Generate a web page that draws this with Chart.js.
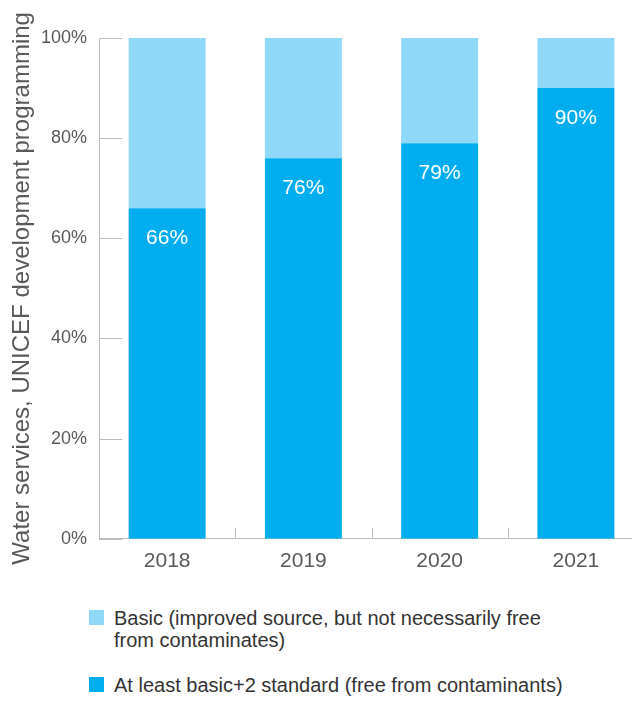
<!DOCTYPE html>
<html>
<head>
<meta charset="utf-8">
<script src="https://cdn.jsdelivr.net/npm/chart.js@4"></script>
<style>
  html, body { margin: 0; padding: 0; background: #fff; overflow: hidden; }
  #wrap { position: relative; width: 632px; height: 702px; overflow: hidden; }
  #chart { position: absolute; left: 0; top: 0; }
  .legend { position: absolute; font-family: "Liberation Sans", Arial, sans-serif; font-size: 20px; line-height: 22px; color: #333; white-space: nowrap; }
  .legend .sw { position: absolute; left: -25px; top: 3px; width: 15px; height: 15px; }
</style>
</head>
<body>
<div id="wrap">
  <canvas id="chart" width="660" height="589"></canvas>
  <div class="legend" style="left:114px; top:607px;"><span class="sw" style="background:#8fd8f8"></span>Basic (improved source, but not necessarily free<br>from contaminates)</div>
  <div class="legend" style="left:114px; top:674px;"><span class="sw" style="background:#00aeef"></span>At least basic+2 standard (free from contaminants)</div>
</div>
<script>
const years = ['2018', '2019', '2020', '2021'];
const basicPlus2 = [66, 76, 79, 90];
const basicOnly = [34, 24, 21, 10];
const yTicks = [0, 20, 40, 60, 80, 100];

const axisGrey = '#bcbcbc';
const textGrey = '#58595b';
const font = 'Liberation Sans, Arial, sans-serif';

// short tick marks drawn inside the plot, like the original
const innerTicks = {
  id: 'innerTicks',
  afterDraw(chart) {
    const ctx = chart.ctx;
    const area = chart.chartArea;
    const x = chart.scales.x;
    const y = chart.scales.y;
    ctx.save();
    ctx.strokeStyle = axisGrey;
    ctx.lineWidth = 1;
    yTicks.forEach(v => {
      const py = Math.round(y.getPixelForValue(v)) + 0.5;
      ctx.beginPath();
      ctx.moveTo(area.left, py);
      ctx.lineTo(area.left + 23, py);
      ctx.stroke();
    });
    for (let i = 1; i < years.length; i++) {
      const px = Math.round((x.getPixelForValue(i - 1) + x.getPixelForValue(i)) / 2) + 0.5;
      ctx.beginPath();
      ctx.moveTo(px, area.bottom);
      ctx.lineTo(px, area.bottom - 11);
      ctx.stroke();
    }
    ctx.restore();
  }
};

const valueLabels = {
  id: 'valueLabels',
  afterDatasetsDraw(chart) {
    const ctx = chart.ctx;
    const meta = chart.getDatasetMeta(0);
    ctx.save();
    ctx.fillStyle = '#fff';
    ctx.font = '21px ' + font;
    ctx.textAlign = 'center';
    ctx.textBaseline = 'middle';
    meta.data.forEach((bar, i) => {
      ctx.fillText(basicPlus2[i] + '%', bar.x, bar.y + 30);
    });
    ctx.restore();
  }
};

new Chart(document.getElementById('chart'), {
  type: 'bar',
  data: {
    labels: years,
    datasets: [
      {
        label: 'At least basic+2 standard (free from contaminants)',
        data: basicPlus2,
        backgroundColor: '#00aeef',
        borderWidth: 0,
        barPercentage: 0.565,
        categoryPercentage: 1
      },
      {
        label: 'Basic (improved source, but not necessarily free from contaminates)',
        data: basicOnly,
        backgroundColor: '#8fd8f8',
        borderWidth: 0,
        barPercentage: 0.565,
        categoryPercentage: 1
      }
    ]
  },
  options: {
    responsive: false,
    animation: false,
    layout: {
      padding: { left: 8, right: 16, top: 38, bottom: 5 }
    },
    plugins: {
      legend: { display: false },
      tooltip: { enabled: false }
    },
    scales: {
      x: {
        stacked: true,
        grid: { display: false, drawTicks: false },
        border: { display: true, color: axisGrey, width: 1 },
        ticks: { color: textGrey, padding: 10, font: { family: font, size: 21 } }
      },
      y: {
        stacked: true,
        min: 0,
        max: 100,
        afterBuildTicks(scale) {
          scale.ticks = yTicks.map(v => ({ value: v }));
        },
        afterFit(scale) {
          scale.width = 91;
        },
        grid: { display: false, drawTicks: false },
        border: { display: true, color: axisGrey, width: 1 },
        ticks: {
          color: textGrey,
          padding: 12,
          font: { family: font, size: 18 },
          callback: v => v + '%'
        },
        title: {
          display: true,
          text: 'Water services, UNICEF development programming',
          color: textGrey,
          font: { family: font, size: 24 },
          padding: { top: 0, bottom: 4 }
        }
      }
    }
  },
  plugins: [innerTicks, valueLabels]
});
</script>
</body>
</html>
